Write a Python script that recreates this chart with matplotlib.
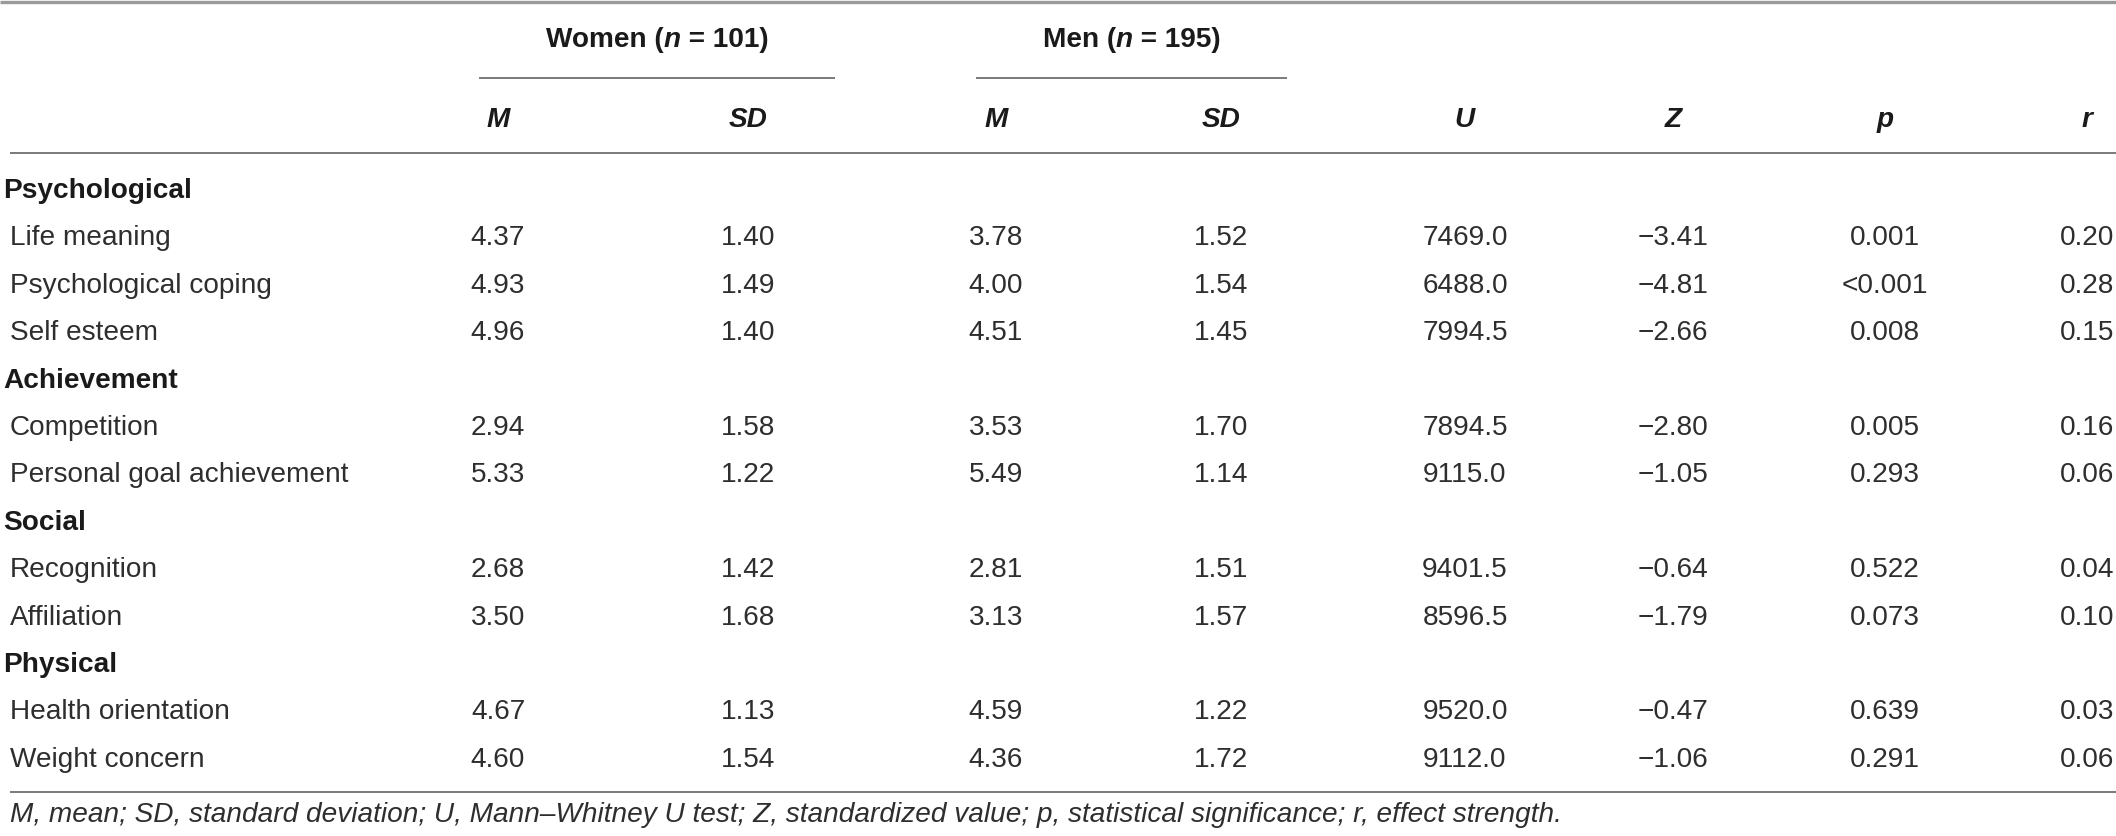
import matplotlib
matplotlib.use("Agg")
import matplotlib.pyplot as plt

FONT = ["Liberation Sans", "DejaVu Sans"]

# ---------------- data ----------------
categories = ["Psychological", "Achievement", "Social", "Physical"]
items = [
    ["Life meaning", "Psychological coping", "Self esteem"],
    ["Competition", "Personal goal achievement"],
    ["Recognition", "Affiliation"],
    ["Health orientation", "Weight concern"],
]
women_m = [4.37, 4.93, 4.96, 2.94, 5.33, 2.68, 3.50, 4.67, 4.60]
women_sd = [1.40, 1.49, 1.40, 1.58, 1.22, 1.42, 1.68, 1.13, 1.54]
men_m = [3.78, 4.00, 4.51, 3.53, 5.49, 2.81, 3.13, 4.59, 4.36]
men_sd = [1.52, 1.54, 1.45, 1.70, 1.14, 1.51, 1.57, 1.22, 1.72]
u_vals = [7469.0, 6488.0, 7994.5, 7894.5, 9115.0, 9401.5, 8596.5, 9520.0, 9112.0]
z_vals = [-3.41, -4.81, -2.66, -2.80, -1.05, -0.64, -1.79, -0.47, -1.06]
p_labels = ["0.001", "<0.001", "0.008", "0.005", "0.293", "0.522", "0.073", "0.639", "0.291"]
r_vals = [0.20, 0.28, 0.15, 0.16, 0.06, 0.04, 0.10, 0.03, 0.06]
col_headers = ["M", "SD", "M", "SD", "U", "Z", "p", "r"]
group_names = ["Women", "Men"]
group_n = ["101", "195"]
footnote = ("M, mean; SD, standard deviation; U, Mann\u2013Whitney U test; "
            "Z, standardized value; p, statistical significance; r, effect strength.")

# ---------------- layout ----------------
W, H = 2116, 836
fig = plt.figure(figsize=(W / 100, H / 100), dpi=100)
ax = fig.add_axes([0, 0, 1, 1])
ax.set_xlim(0, W)
ax.set_ylim(H, 0)
ax.axis("off")

FS = 20.2
TXT = "#2e2e2e"
BLK = "#1a1a1a"
LINE = "#7a7a7a"

col_x = [498, 748, 996, 1221, 1465, 1673, 1885, 2087]
group_span = [(479, 835), (976, 1287)]
row0 = 198
step = 47.4


def fmt_minus(v):
    s = f"{v:.2f}"
    return s.replace("-", "\u2212")


# lines
ax.plot([0, W], [1.5, 1.5], color="#9a9a9a", lw=2.4, solid_capstyle="butt")
for (x0, x1) in group_span:
    ax.plot([x0, x1], [78, 78], color=LINE, lw=1.4, solid_capstyle="butt")
ax.plot([10, W], [153, 153], color=LINE, lw=1.4, solid_capstyle="butt")
ax.plot([10, W], [792, 792], color=LINE, lw=1.4, solid_capstyle="butt")

# group titles with italic n
fig.canvas.draw()
renderer = fig.canvas.get_renderer()
for gi, (name, n) in enumerate(zip(group_names, group_n)):
    pieces = [(name + " (", "normal"), ("n", "italic"), (" = " + n + ")", "normal")]
    texts = []
    widths = []
    for s, st in pieces:
        t = ax.text(0, 47, s, fontsize=FS, fontweight="bold", style=st,
                    family=FONT, color=BLK, ha="left", va="baseline")
        bb = t.get_window_extent(renderer=renderer)
        texts.append(t)
        widths.append(bb.width)
    total = sum(widths)
    cx = (group_span[gi][0] + group_span[gi][1]) / 2
    x = cx - total / 2
    for t, w in zip(texts, widths):
        t.set_x(x)
        x += w

# column headers
for x, h in zip(col_x, col_headers):
    ax.text(x, 127, h, fontsize=FS, fontweight="bold", style="italic",
            family=FONT, color=BLK, ha="center", va="baseline")

# body
row = 0
k = 0
for cat, its in zip(categories, items):
    y = row0 + row * step
    ax.text(3, y, cat, fontsize=FS, fontweight="bold", family=FONT,
            color=BLK, ha="left", va="baseline")
    row += 1
    for it in its:
        y = row0 + row * step
        ax.text(10, y, it, fontsize=FS, family=FONT, color=TXT,
                ha="left", va="baseline")
        vals = [f"{women_m[k]:.2f}", f"{women_sd[k]:.2f}", f"{men_m[k]:.2f}",
                f"{men_sd[k]:.2f}", f"{u_vals[k]:.1f}", fmt_minus(z_vals[k]),
                p_labels[k], f"{r_vals[k]:.2f}"]
        for x, v in zip(col_x, vals):
            ax.text(x, y, v, fontsize=FS, family=FONT, color=TXT,
                    ha="center", va="baseline")
        row += 1
        k += 1

ax.text(10, 822, footnote, fontsize=FS, style="italic", family=FONT,
        color=TXT, ha="left", va="baseline")

fig.savefig("out.png", dpi=100)
